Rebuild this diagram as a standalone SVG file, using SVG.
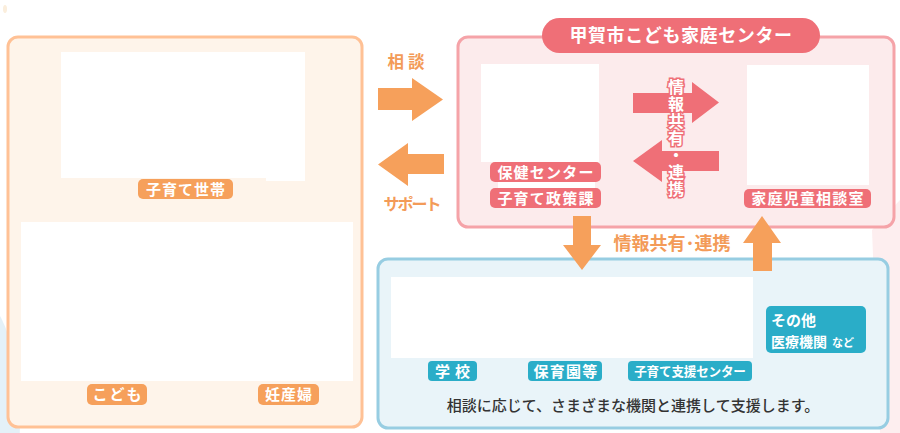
<svg xmlns="http://www.w3.org/2000/svg" width="900" height="433" viewBox="0 0 900 433">
  <style>
    text { font-family: "Noto Sans CJK JP", "Noto Sans", sans-serif; }
    .lbl { fill: #ffffff; font-weight: 700; text-anchor: middle; }
    .org { fill: #F6A05B; }
    .pnk { fill: #EF6F77; }
    .teal { fill: #2AADC8; }
    .white { fill: #ffffff; }
    .otext { fill: #F39B58; font-weight: 700; text-anchor: middle; }
  </style>
  <rect x="0" y="0" width="900" height="433" fill="#ffffff"/>
  <!-- faint background decorations -->
  <ellipse cx="-20" cy="420" rx="40" ry="120" fill="#E4F1F8"/>
  <path d="M872,230 L900,200 L900,433 L880,433 Z" fill="#FDEEEF"/>
  <ellipse cx="5" cy="9" rx="2" ry="4" fill="#FBEEDC"/>

  <g id="family">
    <rect x="8" y="37" width="354" height="390" rx="10" fill="#FEF4EA" stroke="#FFC195" stroke-width="3"/>
    <rect x="61" y="52" width="244" height="126" class="white"/>
    <rect x="266" y="176" width="39" height="5" class="white"/>
    <rect x="138" y="179" width="95" height="20" rx="5" class="org"/>
    <text x="186" y="194.5" class="lbl" font-size="15" letter-spacing="1">子育て世帯</text>
    <rect x="21" y="222" width="332" height="159" class="white"/>
    <rect x="87" y="384" width="60" height="21" rx="5" class="org"/>
    <text x="118" y="400" class="lbl" font-size="15" letter-spacing="2">こども</text>
    <rect x="258" y="384" width="61" height="21" rx="5" class="org"/>
    <text x="289" y="400" class="lbl" font-size="15" letter-spacing="1">妊産婦</text>
  </g>

  <g id="center">
    <rect x="458" y="37" width="436" height="190" rx="10" fill="#FCEBEC" stroke="#F5A3A8" stroke-width="3"/>
    <rect x="542" y="18" width="278" height="35" rx="17.5" class="pnk"/>
    <text x="681" y="42" fill="#ffffff" font-weight="700" font-size="18" text-anchor="middle" letter-spacing="0.6">甲賀市こども家庭センター</text>
    <rect x="481" y="64" width="118" height="98" class="white"/>
    <rect x="490" y="162" width="111" height="20" rx="5" class="pnk"/>
    <text x="546" y="177.5" class="lbl" font-size="15" letter-spacing="1.2">保健センター</text>
    <rect x="498" y="182" width="97" height="6" class="white"/>
    <rect x="490" y="188" width="111" height="20" rx="5" class="pnk"/>
    <text x="546" y="203.5" class="lbl" font-size="15" letter-spacing="1.2">子育て政策課</text>
    <rect x="747" y="65" width="122" height="120" class="white"/>
    <rect x="744" y="189" width="127" height="19" rx="5" class="pnk"/>
    <text x="808" y="204" class="lbl" font-size="15" letter-spacing="1.2">家庭児童相談室</text>
  </g>

  <g id="partners">
    <rect x="378" y="259" width="510" height="169" rx="10" fill="#E9F4F9" stroke="#97CDE2" stroke-width="3"/>
    <rect x="391" y="277" width="362" height="81" class="white"/>
    <rect x="428" y="361" width="49" height="20" rx="4" class="teal"/>
    <text x="455" y="376.5" class="lbl" font-size="15" letter-spacing="5">学校</text>
    <rect x="528" y="361" width="74" height="20" rx="4" class="teal"/>
    <text x="566" y="376.5" class="lbl" font-size="15" letter-spacing="1.2">保育園等</text>
    <rect x="628" y="361" width="124" height="20" rx="4" class="teal"/>
    <text x="690" y="376" class="lbl" font-size="12.6" letter-spacing="-0.2">子育て支援センター</text>
    <rect x="766" y="306" width="100" height="47" rx="5" class="teal"/>
    <text x="771" y="326" fill="#ffffff" font-weight="700" font-size="15">その他</text>
    <text x="771" y="347" fill="#ffffff" font-weight="700" font-size="14">医療機関<tspan font-size="11" dx="5">など</tspan></text>
    <text x="633" y="410.5" fill="#333333" font-size="15" text-anchor="middle" font-weight="500">相談に応じて、さまざまな機関と連携して支援します。</text>
  </g>

  <g id="connectors">
    <polygon class="org" points="378,88 412,88 412,78 443,99.5 412,121 412,110 378,110"/>
    <text x="408" y="68" class="otext" font-size="16.5" letter-spacing="4">相談</text>
    <polygon class="org" points="444,154 408,154 408,143 378,164.5 408,186 408,174 444,174"/>
    <text x="411.5" y="209.5" class="otext" font-size="16" letter-spacing="-2">サポート</text>

    <polygon class="pnk" points="633,93 692,93 692,82 719,102.5 692,123 692,113 633,113"/>
    <polygon class="pnk" points="719,151 662,151 662,140 633,161 662,182 662,171 719,171"/>
    <text x="676" y="138" fill="#ffffff" stroke="#EF6F77" stroke-width="3" paint-order="stroke" font-weight="700" font-size="16" text-anchor="middle" letter-spacing="1" style="writing-mode: vertical-rl; text-orientation: upright;">情報共有・連携</text>

    <polygon class="org" points="573,216 591,216 591,245 601,245 582,270 563,245 573,245"/>
    <polygon class="org" points="753,271 772,271 772,243 781,243 762,216 743,243 753,243"/>
    <text x="672" y="249.5" class="otext" font-size="18">情報共有･連携</text>
  </g>
</svg>
